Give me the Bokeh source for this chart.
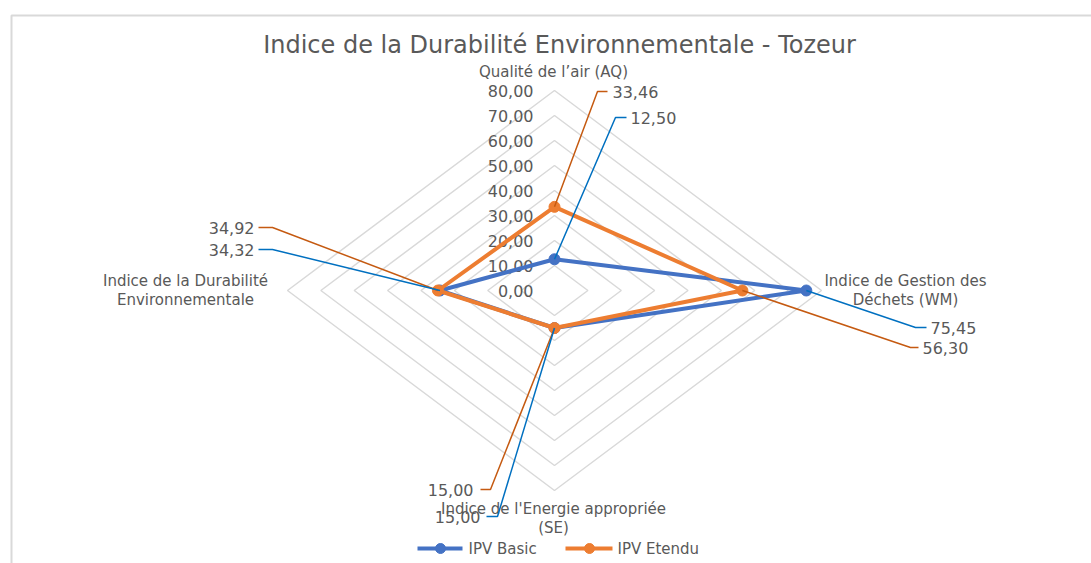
from bokeh.plotting import figure
from bokeh.models import Range1d
from bokeh.core.properties import value
from bokeh.embed import file_html
from bokeh.resources import INLINE

# ---------------- data ----------------
categories = [
    ["Qualité de l’air (AQ)"],
    ["Indice de Gestion des", "Déchets (WM)"],
    ["Indice de l'Energie appropriée", "(SE)"],
    ["Indice de la Durabilité", "Environnementale"],
]
series_names = ["IPV Basic", "IPV Etendu"]
ipv_basic = [12.50, 75.45, 15.00, 34.32]
ipv_etendu = [33.46, 56.30, 15.00, 34.92]
tick_values = [0, 10, 20, 30, 40, 50, 60, 70, 80]
tick_labels = ["0,00", "10,00", "20,00", "30,00", "40,00", "50,00", "60,00", "70,00", "80,00"]

# ---------------- styling / layout ----------------
BLUE = "#4472C4"
ORANGE = "#ED7D31"
BLUE_LEADER = "#0070C0"
ORANGE_LEADER = "#C55A11"
GRID = "#D9D9D9"
TXT = "#595959"
FONT = value("DejaVu Sans")

OFF = 0             # page offset of the plot
W, H = 1091, 563
SX = 267.0 / 80.0   # px per unit horizontally
SY = 200.0 / 80.0   # px per unit vertically
CX, CY = 554, 290   # radar centre on screen


def dx(px):
    return (px - CX) / SX


def dy(py):
    return (CY - py) / SY


p = figure(width=W, height=H,
           x_range=Range1d(dx(OFF), dx(OFF + W)),
           y_range=Range1d(dy(OFF + H), dy(OFF)),
           output_backend="svg", toolbar_location=None,
           x_axis_type=None, y_axis_type=None,
           min_border=0, outline_line_color=None,
           background_fill_color="white", border_fill_color="white")
p.grid.visible = False

# chart border (cropped chart area)
p.line([dx(11), dx(11), dx(1100)], [dy(600), dy(15), dy(15)],
       line_color=GRID, line_width=2)

# directions of the 4 spokes: up, right, down, left
dirs = [(0, 1), (1, 0), (0, -1), (-1, 0)]

# grid diamonds
gxs, gys = [], []
for t in tick_values[1:]:
    gxs.append([t * d[0] for d in dirs] + [t * dirs[0][0]])
    gys.append([t * d[1] for d in dirs] + [t * dirs[0][1]])
p.multi_line(gxs, gys, line_color=GRID, line_width=1.5)

# tick labels
p.text(x=[0] * len(tick_values), y=tick_values, text=tick_labels,
       x_offset=-21, text_align="right", text_baseline="middle",
       text_font=FONT, text_font_size=value("16px"), text_color=TXT)

# series
def series_xy(vals):
    xs = [v * d[0] for v, d in zip(vals, dirs)]
    ys = [v * d[1] for v, d in zip(vals, dirs)]
    return xs, ys

for vals, col in [(ipv_basic, BLUE), (ipv_etendu, ORANGE)]:
    xs, ys = series_xy(vals)
    p.line(xs + xs[:1], ys + ys[:1], line_color=col, line_width=4, line_join="round")
    p.scatter(xs, ys, size=11, fill_color=col, line_color=col)

# category labels (screen layout positions)
cat_pos = [
    [(553, 71)],
    [(905, 280), (905, 299)],
    [(553, 508), (553, 527)],
    [(185, 280), (185, 299)],
]
for lines, poss in zip(categories, cat_pos):
    for txt, (px, py) in zip(lines, poss):
        p.text(x=[dx(px)], y=[dy(py)], text=[txt], text_align="center",
               text_baseline="middle", text_font=FONT,
               text_font_size=value("15px"), text_color=TXT)

# data labels with leader lines: (elbow, end of horizontal, text x, align)
bx, by = series_xy(ipv_basic)
ex, ey = series_xy(ipv_etendu)
basic_lab = [((615, 117), (626, 117), 630, "left"),
             ((915, 327), (926, 327), 930, "left"),
             ((497, 516), (486, 516), 480, "right"),
             ((272, 249), (258, 249), 254, "right")]
etendu_lab = [((597, 91), (607, 91), 612, "left"),
              ((910, 347), (918, 347), 922, "left"),
              ((490, 489), (480, 489), 473, "right"),
              ((272, 227), (258, 227), 254, "right")]

for vals, xs, ys, labs, col in [(ipv_etendu, ex, ey, etendu_lab, ORANGE_LEADER),
                                (ipv_basic, bx, by, basic_lab, BLUE_LEADER)]:
    for v, x0, y0, (e1, e2, tx, al) in zip(vals, xs, ys, labs):
        p.line([x0, dx(e1[0]), dx(e2[0])], [y0, dy(e1[1]), dy(e2[1])],
               line_color=col, line_width=1.5)
        p.text(x=[dx(tx)], y=[dy(e2[1])], text=[f"{v:.2f}".replace(".", ",")],
               text_align=al, text_baseline="middle", text_font=FONT,
               text_font_size=value("16px"), text_color=TXT)

# title
p.text(x=[dx(559)], y=[dy(44)], text=["Indice de la Durabilité Environnementale - Tozeur"],
       text_align="center", text_baseline="middle", text_font=FONT,
       text_font_size=value("24px"), text_color=TXT)

# legend (manual, bottom centre)
leg = [(417, 462, 440, 468, BLUE), (565, 612, 589, 617, ORANGE)]
for name, (l0, l1, mc, tx, col) in zip(series_names, leg):
    p.line([dx(l0), dx(l1)], [dy(548), dy(548)], line_color=col, line_width=4)
    p.scatter([dx(mc)], [dy(548)], size=10, fill_color=col, line_color=col)
    p.text(x=[dx(tx)], y=[dy(548)], text=[name], text_align="left",
           text_baseline="middle", text_font=FONT,
           text_font_size=value("15px"), text_color=TXT)

open("out.html", "w").write(file_html(p, INLINE))
